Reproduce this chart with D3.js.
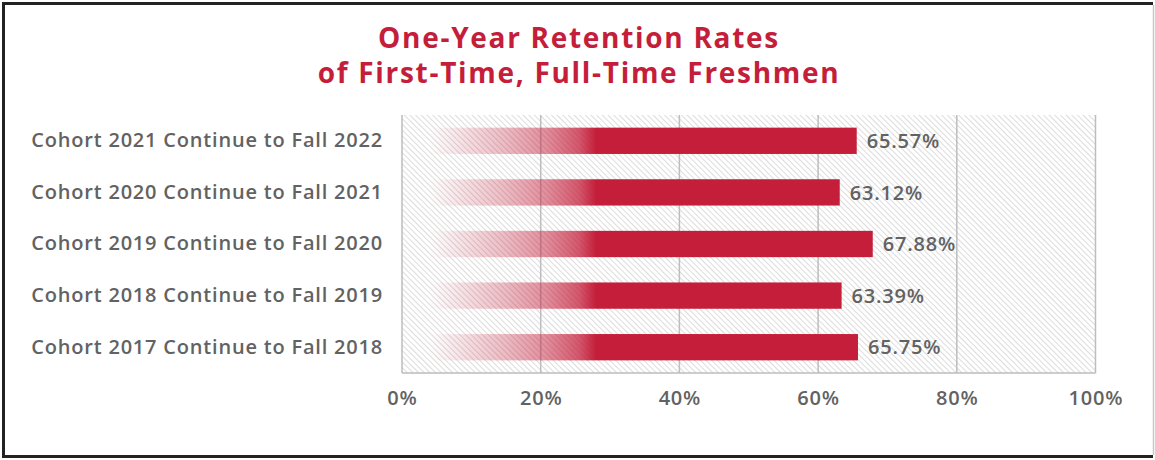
<!DOCTYPE html>
<html>
<head>
<meta charset="utf-8">
<script src="https://cdn.jsdelivr.net/npm/d3@7"></script>
<style>
  body { margin: 0; background: #fff; }
  svg { display: block; font-family: "Open Sans", sans-serif; }
</style>
</head>
<body>
<svg id="chart" width="1155" height="460"></svg>
<script>
// data, top bar first
const cohorts = [
  "Cohort 2021 Continue to Fall 2022",
  "Cohort 2020 Continue to Fall 2021",
  "Cohort 2019 Continue to Fall 2020",
  "Cohort 2018 Continue to Fall 2019",
  "Cohort 2017 Continue to Fall 2018"
];
const rates = [65.57, 63.12, 67.88, 63.39, 65.75];
const ticks = [0, 20, 40, 60, 80, 100];
const titleLines = ["One-Year Retention Rates", "of First-Time, Full-Time Freshmen"];

const red = "#c41e3a";
const grey = "#626262";
const svg = d3.select("#chart");

const margin = {top: 115, right: 60, bottom: 87, left: 402};
const width = 1155, height = 460;

const x = d3.scaleLinear().domain([0, 100]).range([margin.left, width - margin.right + 0.5]);
const y = d3.scaleBand().domain(cohorts).range([margin.top, height - margin.bottom]).paddingInner(0.49).paddingOuter(0.245);

const defs = svg.append("defs");

// hatch for plot background, lines run top-left to bottom-right
const hatch = defs.append("pattern")
  .attr("id", "hatch")
  .attr("patternUnits", "userSpaceOnUse")
  .attr("width", 4).attr("height", 4)
  .attr("patternTransform", "rotate(-45)");
hatch.append("line")
  .attr("x1", 0).attr("y1", 0).attr("x2", 0).attr("y2", 4)
  .attr("stroke", "#c9c9c9").attr("stroke-width", 1.3);

// fade on the left part of bars
const grad = defs.append("linearGradient")
  .attr("id", "fade")
  .attr("gradientUnits", "userSpaceOnUse")
  .attr("x1", x(4)).attr("x2", x(28)).attr("y1", 0).attr("y2", 0);
grad.append("stop").attr("offset", 0).attr("stop-color", red).attr("stop-opacity", 0);
grad.append("stop").attr("offset", 0.45).attr("stop-color", red).attr("stop-opacity", 0.3);
grad.append("stop").attr("offset", 0.7).attr("stop-color", red).attr("stop-opacity", 0.5);
grad.append("stop").attr("offset", 0.9).attr("stop-color", red).attr("stop-opacity", 0.75);
grad.append("stop").attr("offset", 1).attr("stop-color", red).attr("stop-opacity", 1);

// frame
svg.append("path")
  .attr("d", `M1153,3.5 H3.5 V456.5 H1153`)
  .attr("fill", "none").attr("stroke", "#222").attr("stroke-width", 3);
svg.append("line")
  .attr("x1", 1153.5).attr("x2", 1153.5).attr("y1", 5).attr("y2", 455)
  .attr("stroke", "#c8c8c8").attr("stroke-width", 1.5);

// title
svg.append("text")
  .attr("x", 579).attr("y", 48)
  .attr("text-anchor", "middle")
  .attr("fill", red)
  .style("font-size", "28px").style("font-weight", 700)
  .style("letter-spacing", "1.7px")
  .selectAll("tspan")
  .data(titleLines)
  .join("tspan")
  .attr("x", 579)
  .attr("dy", (d, i) => i ? 35 : 0)
  .text(d => d);

// plot background
svg.append("rect")
  .attr("x", x(0)).attr("y", margin.top)
  .attr("width", x(100) - x(0)).attr("height", height - margin.bottom - margin.top)
  .attr("fill", "url(#hatch)");

// gridlines
svg.append("g")
  .selectAll("line")
  .data(ticks)
  .join("line")
  .attr("x1", d => x(d)).attr("x2", d => x(d))
  .attr("y1", margin.top).attr("y2", height - margin.bottom)
  .attr("stroke", "#bdbdbd").attr("stroke-width", 1.5);
svg.append("line")
  .attr("x1", x(0)).attr("x2", x(100))
  .attr("y1", height - margin.bottom).attr("y2", height - margin.bottom)
  .attr("stroke", "#bdbdbd").attr("stroke-width", 1.5);

// bars
svg.append("g")
  .selectAll("rect")
  .data(cohorts)
  .join("rect")
  .attr("x", x(0))
  .attr("y", d => y(d))
  .attr("width", (d, i) => x(rates[i]) - x(0))
  .attr("height", y.bandwidth())
  .attr("fill", "url(#fade)");

// value labels
svg.append("g")
  .selectAll("text")
  .data(cohorts)
  .join("text")
  .attr("x", (d, i) => x(rates[i]) + 10)
  .attr("y", d => y(d) + y.bandwidth() / 2)
  .attr("dy", "0.36em")
  .attr("fill", grey)
  .style("font-size", "20px").style("font-weight", 600)
  .style("letter-spacing", "0.8px")
  .text((d, i) => rates[i].toFixed(2) + "%");

// category axis
const yAxis = svg.append("g")
  .attr("transform", `translate(${x(0) - 19},0)`)
  .call(d3.axisLeft(y).tickSize(0).tickPadding(0));
yAxis.select(".domain").remove();
yAxis.selectAll("text")
  .attr("fill", grey)
  .style("font-size", "20px").style("font-weight", 600)
  .style("letter-spacing", "0.8px")
  .style("font-family", "'Open Sans', sans-serif");

// value axis
const xAxis = svg.append("g")
  .attr("transform", `translate(0,${height - margin.bottom})`)
  .call(d3.axisBottom(x).tickValues(ticks).tickFormat(d => d + "%").tickSize(0).tickPadding(18));
xAxis.select(".domain").remove();
xAxis.selectAll("text")
  .attr("fill", grey)
  .style("font-size", "20px").style("font-weight", 600)
  .style("letter-spacing", "0.8px")
  .style("font-family", "'Open Sans', sans-serif");
</script>
</body>
</html>
